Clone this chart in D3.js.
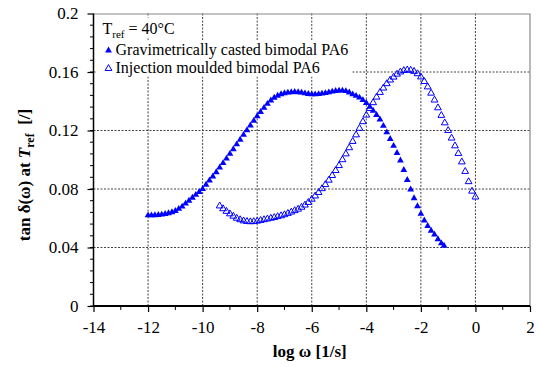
<!DOCTYPE html>
<html>
<head>
<meta charset="utf-8">
<script src="https://cdn.jsdelivr.net/npm/d3@7"></script>
<style>
  body { margin: 0; background: #fff; }
  .grid line { stroke: #444; stroke-width: 1; stroke-dasharray: 2,1.5; }
</style>
</head>
<body>
<div id="chart"></div>
<script>
var width = 537,
    height = 367;

// tick values / labels
var xTicks = [-14, -12, -10, -8, -6, -4, -2, 0, 2];
var xTickLabels = ["-14", "-12", "-10", "-8", "-6", "-4", "-2", "0", "2"];
var yTicks = [0, 0.04, 0.08, 0.12, 0.16, 0.2];
var yTickLabels = ["0", "0.04", "0.08", "0.12", "0.16", "0.2"];

// Gravimetrically casted bimodal PA6 (filled triangles): [log w, tan d]
var casted = [
  [-12.000, 0.0620], [-11.875, 0.0620], [-11.750, 0.0621], [-11.625, 0.0622], [-11.500, 0.0625],
  [-11.375, 0.0629], [-11.250, 0.0634], [-11.125, 0.0641], [-11.000, 0.0650], [-10.875, 0.0664],
  [-10.750, 0.0680], [-10.625, 0.0700], [-10.500, 0.0720], [-10.375, 0.0740], [-10.250, 0.0760],
  [-10.125, 0.0780], [-10.000, 0.0800], [-9.875, 0.0829], [-9.750, 0.0858], [-9.625, 0.0886],
  [-9.500, 0.0915], [-9.375, 0.0946], [-9.250, 0.0977], [-9.125, 0.1008], [-9.000, 0.1040],
  [-8.875, 0.1072], [-8.750, 0.1105], [-8.625, 0.1137], [-8.500, 0.1170], [-8.375, 0.1202],
  [-8.250, 0.1234], [-8.125, 0.1266], [-8.000, 0.1298], [-7.875, 0.1327], [-7.750, 0.1355],
  [-7.625, 0.1382], [-7.500, 0.1405], [-7.375, 0.1424], [-7.250, 0.1438], [-7.125, 0.1448],
  [-7.000, 0.1455], [-6.875, 0.1459], [-6.750, 0.1462], [-6.625, 0.1463], [-6.500, 0.1462],
  [-6.375, 0.1459], [-6.250, 0.1454], [-6.125, 0.1450], [-6.000, 0.1447], [-5.875, 0.1447],
  [-5.750, 0.1449], [-5.625, 0.1452], [-5.500, 0.1456], [-5.375, 0.1461], [-5.250, 0.1466],
  [-5.125, 0.1470], [-5.000, 0.1473], [-4.875, 0.1473], [-4.750, 0.1469], [-4.625, 0.1460],
  [-4.500, 0.1447], [-4.375, 0.1437], [-4.250, 0.1425], [-4.125, 0.1408], [-4.000, 0.1388],
  [-3.875, 0.1362], [-3.750, 0.1335], [-3.625, 0.1306], [-3.500, 0.1275], [-3.375, 0.1232],
  [-3.250, 0.1187], [-3.125, 0.1142], [-3.000, 0.1095], [-2.875, 0.1046], [-2.750, 0.0995],
  [-2.625, 0.0930], [-2.500, 0.0862], [-2.375, 0.0797], [-2.250, 0.0737], [-2.125, 0.0682],
  [-2.000, 0.0630], [-1.875, 0.0585], [-1.750, 0.0547], [-1.625, 0.0515], [-1.500, 0.0488],
  [-1.375, 0.0457], [-1.250, 0.0428], [-1.150, 0.0412]
];

// Injection moulded bimodal PA6 (open triangles): [log w, tan d]
var moulded = [
  [-9.375, 0.0684], [-9.250, 0.0665], [-9.125, 0.0647], [-9.000, 0.0630], [-8.875, 0.0614],
  [-8.750, 0.0600], [-8.625, 0.0590], [-8.500, 0.0582], [-8.375, 0.0578], [-8.250, 0.0576],
  [-8.125, 0.0577], [-8.000, 0.0580], [-7.875, 0.0585], [-7.750, 0.0590], [-7.625, 0.0595],
  [-7.500, 0.0600], [-7.375, 0.0605], [-7.250, 0.0611], [-7.125, 0.0617], [-7.000, 0.0624],
  [-6.875, 0.0633], [-6.750, 0.0642], [-6.625, 0.0652], [-6.500, 0.0662], [-6.375, 0.0675],
  [-6.250, 0.0690], [-6.125, 0.0708], [-6.000, 0.0730], [-5.875, 0.0752], [-5.750, 0.0776],
  [-5.625, 0.0802], [-5.500, 0.0830], [-5.375, 0.0860], [-5.250, 0.0892], [-5.125, 0.0926],
  [-5.000, 0.0960], [-4.875, 0.1000], [-4.750, 0.1040], [-4.625, 0.1082], [-4.500, 0.1125],
  [-4.375, 0.1170], [-4.250, 0.1215], [-4.125, 0.1260], [-4.000, 0.1305], [-3.875, 0.1350],
  [-3.750, 0.1390], [-3.625, 0.1428], [-3.500, 0.1460], [-3.375, 0.1490], [-3.250, 0.1520],
  [-3.125, 0.1545], [-3.000, 0.1565], [-2.875, 0.1585], [-2.750, 0.1600], [-2.625, 0.1610],
  [-2.500, 0.1614], [-2.375, 0.1612], [-2.250, 0.1604], [-2.125, 0.1588], [-2.000, 0.1566],
  [-1.875, 0.1535], [-1.750, 0.1498], [-1.625, 0.1455], [-1.500, 0.1408], [-1.375, 0.1355],
  [-1.250, 0.1303], [-1.125, 0.1252], [-1.000, 0.1200], [-0.875, 0.1148], [-0.750, 0.1095],
  [-0.625, 0.1043], [-0.500, 0.0985], [-0.375, 0.0920], [-0.250, 0.0850], [-0.125, 0.0785],
  [0.000, 0.0745]
];

var legendLabels = ["Gravimetrically casted bimodal PA6", "Injection moulded bimodal PA6"];

var serif = "Liberation Serif";

var margin = {top: 13.5, right: 7, bottom: 61, left: 93.5};
var plotW = width - margin.left - margin.right,
    plotH = height - margin.top - margin.bottom;

var svg = d3.select("#chart").append("svg")
    .attr("width", width).attr("height", height)
    .style("display", "block");

var x = d3.scaleLinear().domain([-14, 2]).range([0, plotW]);
var y = d3.scaleLinear().domain([0, 0.2]).range([plotH, 0]);

var g = svg.append("g").attr("transform", "translate(" + margin.left + "," + margin.top + ")");

// gridlines
var grid = g.append("g").attr("class", "grid");
grid.selectAll(".vg").data(xTicks.slice(1, -1)).enter().append("line")
    .attr("x1", function(d) { return x(d); }).attr("x2", function(d) { return x(d); })
    .attr("y1", 0).attr("y2", plotH);
grid.selectAll(".hg").data(yTicks.slice(1, -1)).enter().append("line")
    .attr("x1", 0).attr("x2", plotW)
    .attr("y1", function(d) { return y(d); }).attr("y2", function(d) { return y(d); });

// top / right frame (grey)
g.append("path")
    .attr("d", "M0,0.5H" + plotW + "V" + plotH)
    .attr("fill", "none").attr("stroke", "#888").attr("stroke-width", 1.2);

// legend background (hides grid behind the text)
var legend = g.append("g");
legend.append("rect").attr("x", 3).attr("y", 4).attr("width", 80).attr("height", 21).attr("fill", "#fff");
legend.append("rect").attr("x", 3).attr("y", 27).attr("width", x(-4.55) - 3).attr("height", 36).attr("fill", "#fff");

// data
var triFilled = d3.symbol().type(d3.symbolTriangle).size(20);
var triOpen = d3.symbol().type(d3.symbolTriangle).size(20);

g.append("g").selectAll("path").data(moulded).enter().append("path")
    .attr("d", triOpen)
    .attr("transform", function(d) { return "translate(" + x(d[0]) + "," + y(d[1]) + ")"; })
    .attr("fill", "none").attr("stroke", "#0000ff").attr("stroke-width", 1);

g.append("g").selectAll("path").data(casted).enter().append("path")
    .attr("d", triFilled)
    .attr("transform", function(d) { return "translate(" + x(d[0]) + "," + y(d[1]) + ")"; })
    .attr("fill", "#0000ff");

// axes
var yAxis = g.append("g")
    .call(d3.axisLeft(y).tickValues(yTicks).tickSize(6).tickPadding(9)
      .tickFormat(function(d, i) { return yTickLabels[i]; }));
yAxis.append("g").selectAll("line").data(d3.range(0, 0.2, 0.008)).enter().append("line")
    .attr("x1", -3.5).attr("x2", 0)
    .attr("y1", function(d) { return y(d); }).attr("y2", function(d) { return y(d); })
    .attr("stroke", "#000");

var xAxis = g.append("g").attr("transform", "translate(0," + plotH + ")")
    .call(d3.axisBottom(x).tickValues(xTicks).tickSize(6).tickPadding(9)
      .tickFormat(function(d, i) { return xTickLabels[i]; }));
xAxis.append("g").selectAll("line").data(d3.range(-13, 2, 2)).enter().append("line")
    .attr("x1", function(d) { return x(d); }).attr("x2", function(d) { return x(d); })
    .attr("y1", 0).attr("y2", 4)
    .attr("stroke", "#000");

[yAxis, xAxis].forEach(function(a) {
  a.attr("font-family", null).attr("font-size", null);
  a.selectAll("text").style("font-family", serif).style("font-size", "17px").attr("fill", "#000");
  a.selectAll(".tick line").attr("stroke-width", 1.2);
});
yAxis.select(".domain").attr("stroke-width", 1.5).attr("d", "M0,0V" + plotH);
xAxis.select(".domain").attr("stroke-width", 2).attr("d", "M0,0H" + plotW);

// legend text
var lt = legend.append("text").attr("x", 9).attr("y", 20)
    .style("font-family", serif).style("font-size", "16px");
lt.append("tspan").text("T");
lt.append("tspan").attr("dy", 4).style("font-size", "11px").text("ref");
lt.append("tspan").attr("dy", -4).text(" = 40°C");

legend.append("path").attr("d", triFilled)
    .attr("transform", "translate(15,37)").attr("fill", "#0000ff");
legend.append("path").attr("d", triOpen)
    .attr("transform", "translate(15,55)").attr("fill", "none").attr("stroke", "#0000ff");
legend.selectAll(".lab").data(legendLabels).enter().append("text")
    .attr("x", 22).attr("y", function(d, i) { return 41 + i * 18; })
    .style("font-family", serif).style("font-size", "16px")
    .text(function(d) { return d; });

// axis titles
svg.append("text")
    .attr("x", margin.left + plotW / 2 - 2).attr("y", 357)
    .attr("text-anchor", "middle")
    .style("font-family", serif).style("font-size", "17px").style("font-weight", "bold")
    .text("log ω [1/s]");

var yt = svg.append("text")
    .attr("transform", "translate(30,175) rotate(-90)")
    .attr("text-anchor", "middle")
    .style("font-family", serif).style("font-size", "17px").style("font-weight", "bold");
yt.append("tspan").text("tan δ(ω) at ");
yt.append("tspan").style("font-style", "italic").text("T");
yt.append("tspan").attr("dy", 4).style("font-size", "12px").text("ref");
yt.append("tspan").attr("dy", -4).attr("xml:space", "preserve").text("  [/]");
</script>
</body>
</html>
